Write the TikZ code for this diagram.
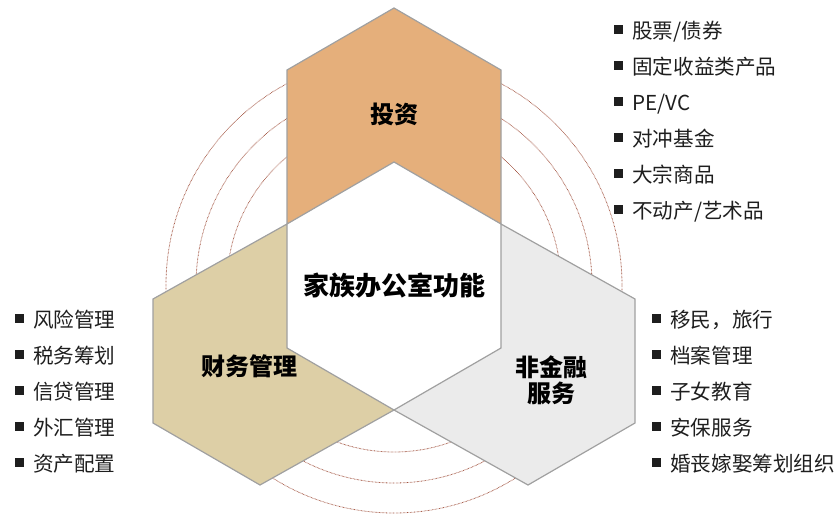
\documentclass[tikz,border=0pt]{standalone}
\usepackage{fontspec}
\setmainfont{Noto Sans CJK SC}
\definecolor{orangefill}{RGB}{229,175,123}
\definecolor{tanfill}{RGB}{221,207,166}
\definecolor{greyfill}{RGB}{235,235,235}
\definecolor{edgegrey}{RGB}{160,160,160}
\definecolor{ringred}{RGB}{160,80,60}
\definecolor{itemtext}{RGB}{30,30,30}
\newcommand{\bul}{\rule[5pt]{8.5pt}{8.5pt}\hspace{9.5pt}}
\tikzset{
  ring/.style={draw=ringred, line width=0.8pt, dash pattern=on 0.6pt off 0.8pt},
  chev/.style={draw=edgegrey, line width=1.2pt, line join=miter},
  item/.style={anchor=base west, inner sep=0pt, text=itemtext, font=\fontsize{20.6}{24}\selectfont},
  lab/.style={anchor=center, inner sep=0pt, text=black, font=\fontsize{24}{26}\selectfont\bfseries, align=center},
}
\begin{document}
\begin{tikzpicture}[x=1pt,y=-1pt]
\useasboundingbox (0,0) rectangle (838,514);
\coordinate (C) at (394,285);
% concentric dotted rings
\draw[ring] (C) circle[radius=167pt];
\draw[ring] (C) circle[radius=198pt];
\draw[ring] (C) circle[radius=228pt];
% central hexagon
\fill[white] (287,224) -- (394,162) -- (501,224) -- (501,348) -- (394,410) -- (287,348) -- cycle;
% top chevron
\filldraw[chev, fill=orangefill] (287,224) -- (394,162) -- (501,224) -- (501,70) -- (394,8) -- (287,70) -- cycle;
% left chevron
\filldraw[chev, fill=tanfill] (287,224) -- (287,348) -- (394,410) -- (260,485) -- (153,423) -- (153,299) -- cycle;
% right chevron
\filldraw[chev, fill=greyfill] (501,224) -- (501,348) -- (394,410) -- (528,485) -- (635,423) -- (635,299) -- cycle;
% labels
\node[lab] (inv) at (394,114) {投资};
\node[lab, font=\fontsize{26}{28}\selectfont\bfseries] (core) at (394,286) {家族办公室功能};
\node[lab] (fin) at (249,366) {财务管理};
\node[lab] (nonfin) at (551,380) {非金融\\服务};
% top list
\node[item] (a1) at (614,38.5) {\bul 股票/债券};
\node[item] (a2) at (614,74.5) {\bul 固定收益类产品};
\node[item] (a3) at (614,110.5) {\bul PE/VC};
\node[item] (a4) at (614,146.5) {\bul 对冲基金};
\node[item] (a5) at (614,182.5) {\bul 大宗商品};
\node[item] (a6) at (614,218.5) {\bul 不动产/艺术品};
% left list
\node[item] (b1) at (15,327.5) {\bul 风险管理};
\node[item] (b2) at (15,363.5) {\bul 税务筹划};
\node[item] (b3) at (15,399.5) {\bul 信贷管理};
\node[item] (b4) at (15,435.5) {\bul 外汇管理};
\node[item] (b5) at (15,471.5) {\bul 资产配置};
% right list
\node[item] (c1) at (652,327.5) {\bul 移民，旅行};
\node[item] (c2) at (652,363.5) {\bul 档案管理};
\node[item] (c3) at (652,399.5) {\bul 子女教育};
\node[item] (c4) at (652,435.5) {\bul 安保服务};
\node[item] (c5) at (652,471.5) {\bul 婚丧嫁娶筹划组织};
\end{tikzpicture}
\end{document}
